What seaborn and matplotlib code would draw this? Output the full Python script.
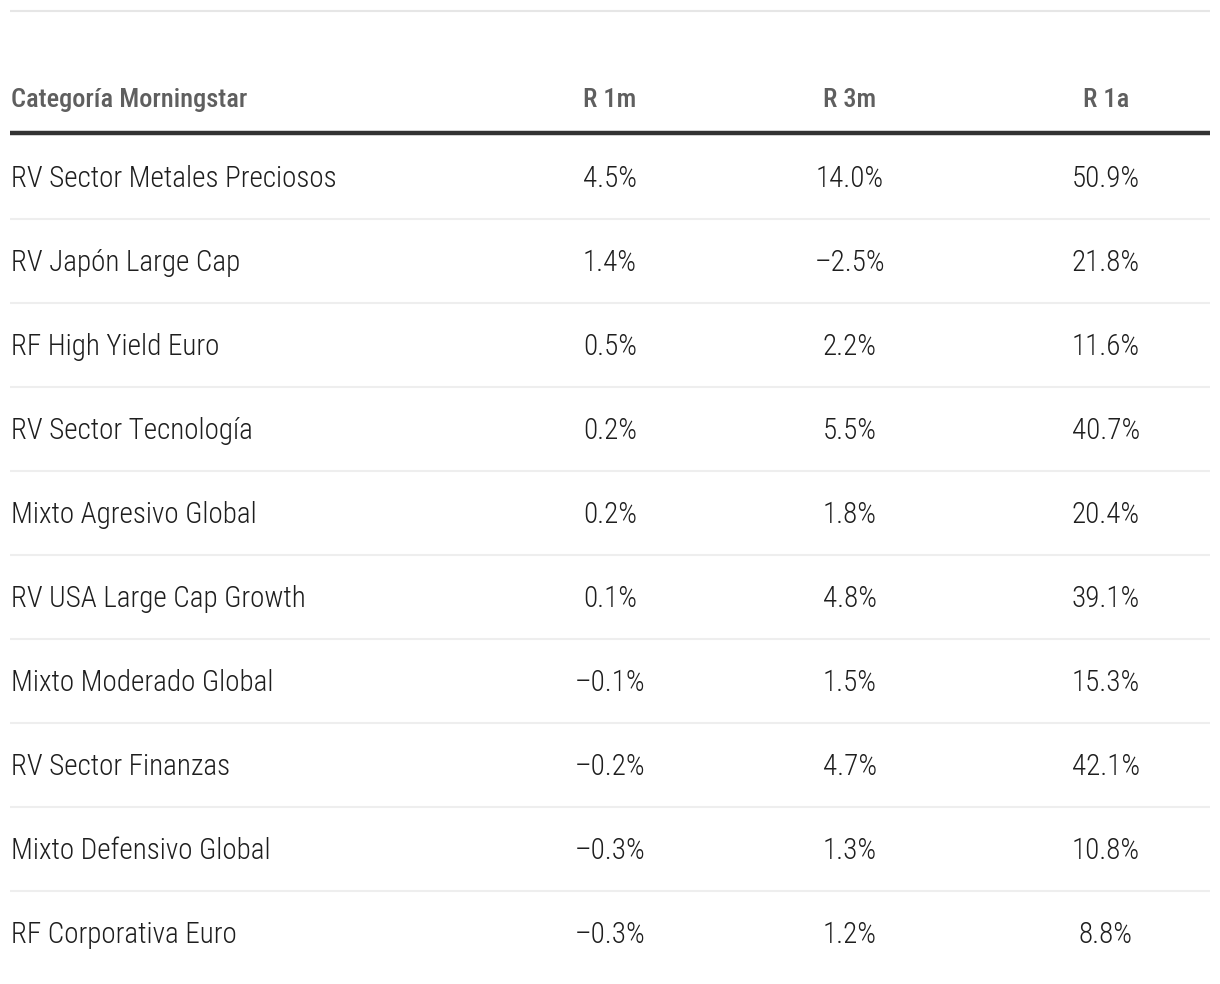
import matplotlib
matplotlib.use("Agg")
import matplotlib.pyplot as plt
from matplotlib import font_manager
import seaborn as sns

categories = ["RV Sector Metales Preciosos", "RV Japón Large Cap", "RF High Yield Euro",
              "RV Sector Tecnología", "Mixto Agresivo Global", "RV USA Large Cap Growth",
              "Mixto Moderado Global", "RV Sector Finanzas", "Mixto Defensivo Global",
              "RF Corporativa Euro"]
r1m = [4.5, 1.4, 0.5, 0.2, 0.2, 0.1, -0.1, -0.2, -0.3, -0.3]
r3m = [14.0, -2.5, 2.2, 5.5, 1.8, 4.8, 1.5, 4.7, 1.3, 1.2]
r1a = [50.9, 21.8, 11.6, 40.7, 20.4, 39.1, 15.3, 42.1, 10.8, 8.8]
headers = ["Categoría Morningstar", "R 1m", "R 3m", "R 1a"]

sns.set_theme(style="white")
avail = {f.name for f in font_manager.fontManager.ttflist}
fam = next((f for f in ["Roboto Condensed", "Liberation Sans Narrow", "Roboto"] if f in avail), "DejaVu Sans")
plt.rcParams["font.family"] = [fam, "DejaVu Sans"]

W, H = 1220, 984
fig = plt.figure(figsize=(W / 100, H / 100), dpi=100)
ax = fig.add_axes([0, 0, 1, 1])
ax.set_xlim(0, W)
ax.set_ylim(H, 0)
ax.axis("off")

def fmt(v):
    s = f"{abs(v):.1f}%"
    return ("\u2013" + s) if v < 0 else s

x0, x1 = 10, 1210
col_x = [610, 850, 1106]
header_y = 100
row0 = 179
step = 84

ax.plot([x0, x1], [11, 11], color="#e6e6e6", lw=1.5, solid_capstyle="butt")
ax.text(11, header_y, headers[0], ha="left", va="center", fontsize=19,
        color="#5f5f5f", fontweight="medium")
for h, cx in zip(headers[1:], col_x):
    ax.text(cx, header_y, h, ha="center", va="center", fontsize=19,
            color="#5f5f5f", fontweight="medium")
ax.plot([x0, x1], [133, 133], color="#333333", lw=3.2, solid_capstyle="butt")

for i, cat in enumerate(categories):
    y = row0 + i * step
    ax.text(11, y, cat, ha="left", va="center", fontsize=21, color="#1e1e1e",
            fontweight="light")
    for vals, cx in zip([r1m, r3m, r1a], col_x):
        ax.text(cx, y, fmt(vals[i]), ha="center", va="center", fontsize=21,
                color="#1e1e1e", fontweight="light")
    if i < len(categories) - 1:
        ax.plot([x0, x1], [row0 - 2 + i * step + 42] * 2, color="#eeeeee", lw=1.5,
                solid_capstyle="butt")

fig.savefig("out.png", dpi=100, facecolor="white")
